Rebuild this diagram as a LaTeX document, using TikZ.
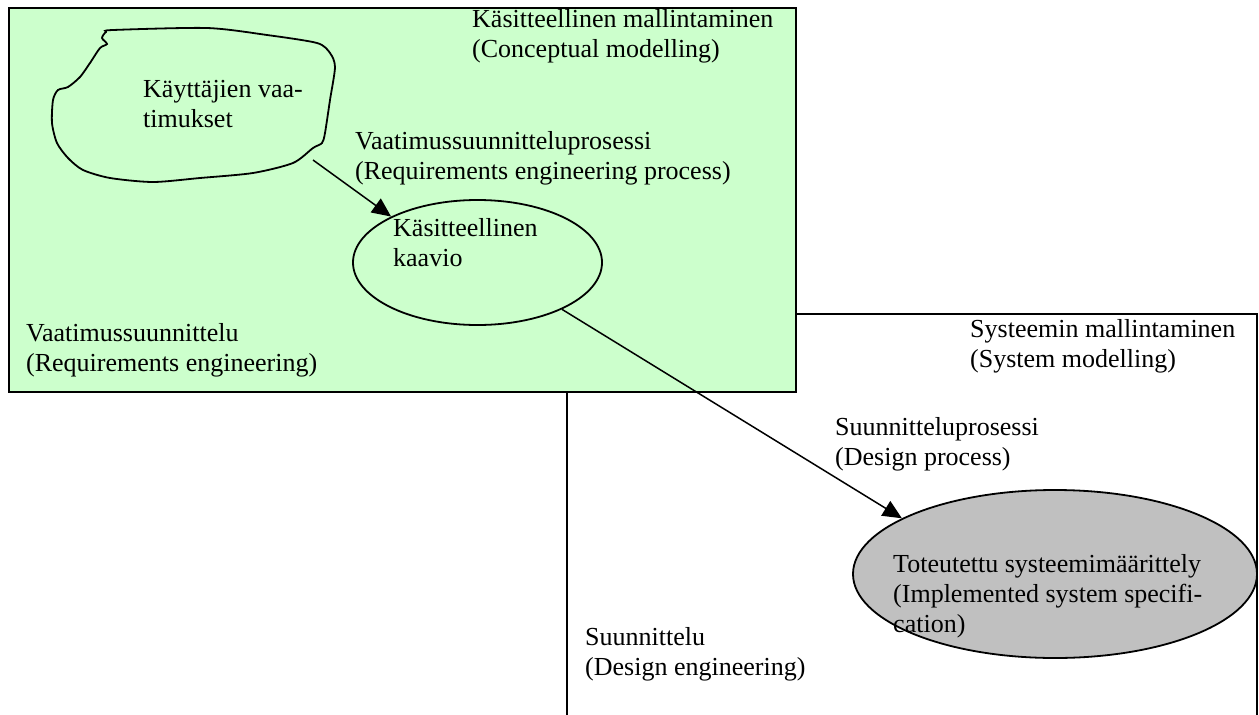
\documentclass[tikz,border=0pt]{standalone}
\usepackage{fontspec}
\setmainfont{Liberation Serif}
\usetikzlibrary{shapes.geometric,arrows.meta}
\definecolor{conceptgreen}{HTML}{CCFFCC}
\definecolor{implgray}{HTML}{C0C0C0}
% left-aligned rows, baseline at the first row
\newcommand\textrows[1]{\vtop{\halign{##\hfil\cr#1\crcr}}}
\tikzset{
  lbl/.style={anchor=base west, inner sep=0pt, font=\fontsize{26}{30}\selectfont},
  frame/.style={draw=black, line width=2pt},
  bubble/.style={ellipse, draw=black, line width=1.8pt, inner sep=0pt},
  conn/.style={draw=black, line width=1.5pt, -{Triangle[length=19pt,width=17pt]}},
}
\begin{document}
\begin{tikzpicture}[x=1pt,y=-1pt]
\useasboundingbox (0,0) rectangle (1259,715);
\fill[white] (0,0) rectangle (1259,715);

% system modelling area (open at the bottom)
\draw[frame] (567,715) -- (567,314) -- (1257,314) -- (1257,715);

% conceptual modelling area
\filldraw[frame, fill=conceptgreen] (9,8) rectangle (796,392);

% users' requirements (free-hand cloud)
\draw[line width=1.8pt, fill=conceptgreen]
  plot[smooth cycle, tension=0.45] coordinates {
    (113,30) (207,28) (267,35) (317,43) (330,53) (335,67) (330,100)
    (325,133) (322,143) (313,148) (293,163) (253,173) (200,178)
    (153,182) (110,178) (83,170) (68,158) (57,143) (52,123) (53,100)
    (58,90) (68,87) (80,77) (90,63) (100,48) (107,44) (102,38) (106,32)};
\coordinate (reqstart) at (313,160);

% concept schema and implemented specification
\node[bubble, fill=conceptgreen, minimum width=249pt, minimum height=125pt] (concept) at (477.5,262.5) {};
\node[bubble, fill=implgray, minimum width=404pt, minimum height=168pt] (impl) at (1055,574) {};

% processes
\draw[conn] (reqstart) -- (concept.152.5);
\draw[conn] (concept.-29) -- (impl.160);

% labels
\node[lbl] (tconc) at (472,27) {\textrows{Käsitteellinen mallintaminen\cr(Conceptual modelling)}};
\node[lbl] (tuser) at (143,97) {\textrows{Käyttäjien vaa-\cr timukset}};
\node[lbl] (trep) at (355,149) {\textrows{Vaatimussuunnitteluprosessi\cr(Requirements engineering process)}};
\node[lbl] (tschema) at (393,236) {\textrows{Käsitteellinen\cr kaavio}};
\node[lbl] (treq) at (26,341) {\textrows{Vaatimussuunnittelu\cr(Requirements engineering)}};
\node[lbl] (tsys) at (970,337) {\textrows{Systeemin mallintaminen\cr(System modelling)}};
\node[lbl] (tdp) at (835,435) {\textrows{Suunnitteluprosessi\cr(Design process)}};
\node[lbl] (timpl) at (893,572) {\textrows{Toteutettu systeemimäärittely\cr(Implemented system specifi-\cr cation)}};
\node[lbl] (tde) at (585,645) {\textrows{Suunnittelu\cr(Design engineering)}};
\end{tikzpicture}
\end{document}
